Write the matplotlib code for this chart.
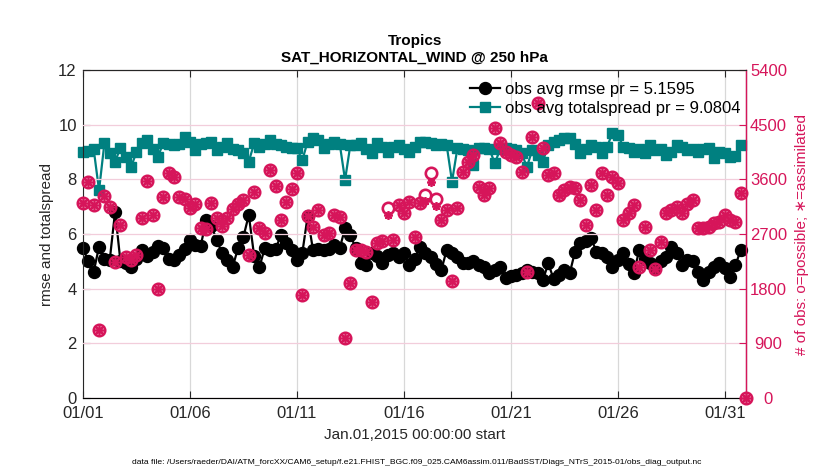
import numpy as np
import matplotlib
matplotlib.use("Agg")
import matplotlib.pyplot as plt
from matplotlib.lines import Line2D

plt.rcParams['font.family'] = ['Liberation Sans', 'DejaVu Sans']

# ---------------- data (6-hourly bins, Jan 01 2015 00Z .. Feb 01 00Z) ----------------
days = np.arange(125) * 0.25   # days since 2015-01-01 00:00

rmse = [5.48, 5.0, 4.62, 5.54, 5.1, 5.05, 6.82, 5.0, 4.95, 4.8, 5.1, 5.4,
        5.2, 5.35, 5.55, 5.5, 5.1, 5.05, 5.25, 5.45, 5.78, 5.6, 5.55, 6.5,
        6.3, 5.78, 5.3, 5.05, 4.8, 5.5, 5.9, 6.7, 5.2, 4.8, 5.5, 5.4,
        5.45, 5.96, 5.67, 5.4, 5.05, 5.3, 6.65, 5.42, 5.45, 5.4, 5.45, 5.6,
        5.48, 6.21, 5.96, 5.48, 4.93, 4.87, 5.29, 5.2, 4.93, 5.23, 5.3, 5.17,
        5.29, 4.87, 5.1, 5.54, 5.3, 5.17, 4.9, 4.68, 5.42, 5.3, 5.17, 4.93,
        4.95, 5.0, 4.85, 4.8, 4.56, 4.7, 4.8, 4.38, 4.45, 4.5, 4.56, 4.68,
        4.6, 4.56, 4.32, 4.93, 4.35, 4.5, 4.68, 4.56, 5.36, 5.66, 5.75, 5.84,
        5.36, 5.3, 5.17, 4.8, 5.05, 5.3, 4.9, 4.56, 5.42, 5.1, 4.93, 4.8,
        5.0, 5.17, 5.54, 5.3, 4.87, 5.05, 5.0, 4.6, 4.32, 4.6, 4.8, 4.93,
        4.75, 4.44, 4.87, 5.42, np.nan]

totalspread = [9.0, 9.05, 9.1, 7.6, 9.32, 8.95, 8.65, 9.15, 8.83, 8.46, 9.0, 9.32,
               9.44, 9.1, 8.83, 9.32, 9.3, 9.27, 9.3, 9.56, 9.38, 9.07, 9.3, 9.32,
               9.38, 9.07, 9.2, 9.32, 9.1, 9.07, 8.95, 8.65, 9.32, 9.2, 9.3, 9.44,
               9.3, 9.27, 9.2, 9.15, 9.13, 8.7, 9.38, 9.5, 9.45, 9.13, 9.3, 9.38,
               9.3, 7.98, 9.27, 9.25, 9.32, 9.1, 8.95, 9.32, 9.2, 9.0, 9.2, 9.27,
               9.1, 9.0, 9.2, 9.38, 9.35, 9.32, 9.27, 9.3, 9.25, 7.92, 9.13, 9.1,
               9.07, 8.52, 9.13, 9.15, 9.1, 8.59, 9.1, 9.13, 9.1, 9.07, 8.95, 8.46,
               9.07, 8.89, 8.65, 9.27, 9.38, 9.44, 9.5, 9.5, 9.3, 8.95, 9.1, 9.27,
               9.2, 8.95, 9.2, 9.69, 9.63, 9.2, 9.13, 9.0, 9.1, 8.95, 9.27, 9.07,
               9.1, 8.89, 9.0, 9.27, 9.2, 9.07, 9.1, 9.0, 9.1, 9.13, 8.77, 9.0,
               8.95, 8.83, 8.85, 9.27, np.nan]

nposs = [3204, 3560, 3177, 1125, 3330, 3150, 2246, 2849, 2327, 2273, 2354, 2957,
         3578, 3006, 1800, 3308, 3699, 3636, 3308, 3285, 3123, 3195, 2795, 2781,
         3204, 2970, 2835, 2970, 3105, 3195, 3258, 2354, 3398, 2795, 2714, 3753,
         3488, 2930, 3231, 3438, 3699, 1697, 2997, 2808, 3096, 2682, 2714, 3015,
         2984, 981, 1890, 2439, 2430, 2412, 1589, 2547, 2579, 3123, 2601, 3177,
         3042, 3231, 2655, 3204, 3344, 3699, 3285, 2930, 3096, 1922, 3123, 3726,
         3893, 4001, 3479, 3344, 3452, 4442, 4194, 4050, 4005, 3974, 3726, 2079,
         4302, 4851, 4109, 3672, 3699, 3344, 3425, 3479, 3465, 3258, 2849, 3506,
         3096, 3699, 3344, 3645, 3533, 2930, 3042, 3177, 2160, 2822, 2439, 2133,
         2574, 3042, 3096, 3150, 3042, 3195, 3258, 2795, 2795, 2822, 2876, 2903,
         3015, 2925, 2903, 3371, 0]

nused = [3204, 3560, 3177, 1125, 3330, 3150, 2246, 2849, 2327, 2273, 2354, 2957,
         3578, 3006, 1800, 3308, 3699, 3636, 3308, 3285, 3123, 3195, 2795, 2781,
         3204, 2970, 2835, 2970, 3105, 3195, 3258, 2354, 3398, 2795, 2714, 3753,
         3488, 2930, 3231, 3438, 3699, 1697, 2997, 2808, 3096, 2682, 2714, 3015,
         2984, 981, 1890, 2439, 2430, 2412, 1589, 2547, 2579, 3020, 2601, 3177,
         3042, 3231, 2655, 3204, 3250, 3560, 3170, 2930, 3096, 1922, 3123, 3726,
         3893, 4001, 3479, 3344, 3452, 4442, 4194, 4050, 4005, 3974, 3726, 2079,
         4302, 4851, 4109, 3672, 3699, 3344, 3425, 3479, 3465, 3258, 2849, 3506,
         3096, 3699, 3344, 3645, 3533, 2930, 3042, 3177, 2160, 2822, 2439, 2133,
         2574, 3042, 3096, 3150, 3042, 3195, 3258, 2795, 2795, 2822, 2876, 2903,
         3015, 2925, 2903, 3371, 0]

xtick_days = [0, 5, 10, 15, 20, 25, 30]
xtick_labels = ['01/01', '01/06', '01/11', '01/16', '01/21', '01/26', '01/31']
left_ticks = [0, 2, 4, 6, 8, 10, 12]
right_ticks = [0, 900, 1800, 2700, 3600, 4500, 5400]

rmse_label = 'obs avg rmse pr = 5.1595'
spread_label = 'obs avg totalspread pr = 9.0804'

# ---------------- styling ----------------
PINK = '#D6155A'
TEAL = '#008080'

fig = plt.figure(figsize=(8.30, 4.70), dpi=100)
ax = fig.add_axes([0.100, 0.153, 0.799, 0.698])
ax2 = ax.twinx()

ax.set_xlim(0, 31)
ax.set_ylim(0, 12)
ax2.set_ylim(0, 5400)

# grids
ax.set_axisbelow(True)
ax.xaxis.grid(True, color='#d8d8d8', linewidth=0.9)
ax2.set_axisbelow(True)
ax2.yaxis.grid(True, color='#f2cddb', linewidth=0.9)

# obs counts on right axis
ax2.plot(days, nposs, linestyle='none', marker='o', markersize=8.2,
         markerfacecolor='none', markeredgecolor=PINK, markeredgewidth=1.9,
         clip_on=False, zorder=3)
ax2.plot(days, nused, linestyle='none', marker=(8, 2, 0), markersize=6.2,
         markeredgecolor=PINK, markeredgewidth=1.3, color=PINK,
         clip_on=False, zorder=3)

# rmse and spread on left axis
ax.plot(days, totalspread, color=TEAL, linewidth=1.6, marker='s',
        markersize=7.4, markerfacecolor=TEAL, markeredgecolor=TEAL,
        clip_on=False, zorder=2)
ax.plot(days, rmse, color='black', linewidth=1.6, marker='o',
        markersize=8.6, markerfacecolor='black', markeredgecolor='black',
        clip_on=False, zorder=2)

ax.set_zorder(1)
ax2.set_zorder(2)
ax2.patch.set_visible(False)

ax.set_xticks(xtick_days)
ax.set_xticklabels(xtick_labels)
ax.set_yticks(left_ticks)
ax.set_yticklabels([str(v) for v in left_ticks])
ax2.set_yticks(right_ticks)
ax2.set_yticklabels([str(v) for v in right_ticks])

ax.tick_params(axis='both', direction='in', length=5, labelsize=12,
               colors='#262626', top=True)
ax.tick_params(axis='y', right=False, pad=4.5)
ax.tick_params(axis='x', pad=6)
ax2.tick_params(axis='y', direction='in', length=5, labelsize=12,
                colors=PINK, labelcolor=PINK, pad=16)
for lbl in ax2.get_yticklabels():
    lbl.set_horizontalalignment('center')

for s in ['left', 'bottom', 'top']:
    ax.spines[s].set_color('#262626')
ax2.spines['right'].set_color(PINK)
ax2.spines['right'].set_linewidth(1.0)
ax2.spines['left'].set_visible(False)
ax2.spines['top'].set_color('#262626')

ax.set_ylabel('rmse and totalspread', fontsize=11, color='#262626', labelpad=3)
ax2.set_ylabel('# of obs: o=possible; \u2217=assimilated', fontsize=11,
               color=PINK, labelpad=6)
ax.set_xlabel('Jan.01,2015 00:00:00 start', fontsize=11, color='#262626',
              labelpad=4.5)
ax.set_title('Tropics\nSAT_HORIZONTAL_WIND @ 250 hPa', fontsize=11,
             fontweight='bold', color='black', pad=6, linespacing=1.2)

handles = [Line2D([], [], color='black', linewidth=1.6, marker='o',
                  markersize=8.6, markerfacecolor='black'),
           Line2D([], [], color=TEAL, linewidth=1.6, marker='s',
                  markersize=7.4, markerfacecolor=TEAL)]
leg = ax2.legend(handles, [rmse_label, spread_label], loc='upper right',
                 bbox_to_anchor=(1.006, 0.995), frameon=False, fontsize=12,
                 handlelength=1.8, handletextpad=0.3, labelspacing=0.25,
                 borderaxespad=0.2)
for t in leg.get_texts():
    t.set_color('black')

fig.text(0.502, 0.017,
         'data file: /Users/raeder/DAI/ATM_forcXX/CAM6_setup/f.e21.FHIST_BGC.f09_025.'
         'CAM6assim.011/BadSST/Diags_NTrS_2015-01/obs_diag_output.nc',
         ha='center', va='center', fontsize=6.1, color='black')

assert len(rmse) == len(totalspread) == len(nposs) == len(nused) == len(days)

fig.savefig('out.png', dpi=100)
